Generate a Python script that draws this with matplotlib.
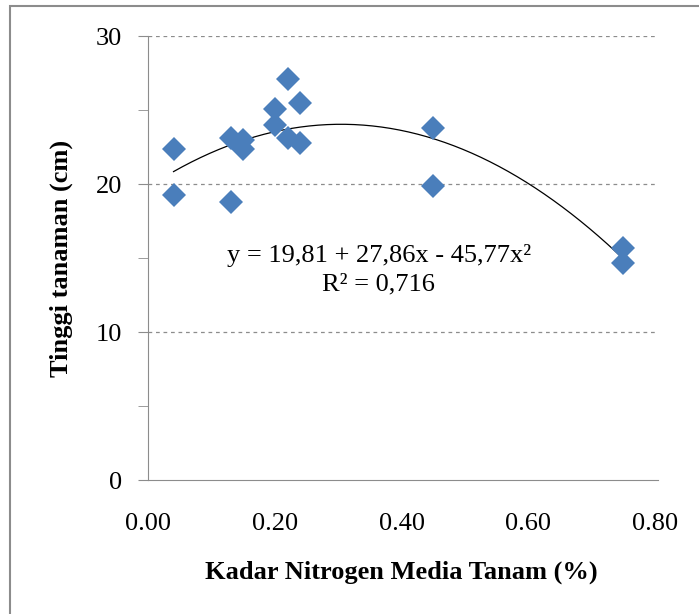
import numpy as np
import matplotlib
matplotlib.use("Agg")
import matplotlib.pyplot as plt
from matplotlib.patches import Rectangle

plt.rcParams['font.family'] = ['Liberation Serif', 'DejaVu Serif']

# data
kadar_n = [0.04, 0.04, 0.13, 0.13, 0.15, 0.15, 0.20, 0.20, 0.22, 0.22, 0.24, 0.24, 0.45, 0.45, 0.75, 0.75]
tinggi = [22.4, 19.3, 23.1, 18.8, 23.0, 22.4, 25.1, 24.0, 27.1, 23.1, 25.5, 22.8, 23.8, 19.9, 15.7, 14.7]

# polynomial trend from the chart
b0, b1, b2 = 19.81, 27.86, -45.77
x_ticks = [0.0, 0.2, 0.4, 0.6, 0.8]
y_ticks = [0, 10, 20, 30]

fig = plt.figure(figsize=(6.99, 6.14), dpi=100)
ax = fig.add_axes([0.212, 0.218, 0.725, 0.723])

# grey frame, only left and top edges fall inside the picture
fig.patches.append(Rectangle((0.015, -0.05), 1.1, 1.0395, transform=fig.transFigure,
                             fill=False, edgecolor='#8c8c8c', linewidth=1.5))

for yv in y_ticks[1:]:
    ax.axhline(yv, color='#8c8c8c', linestyle=(0, (3, 3)), linewidth=0.9, zorder=1)

xs = np.linspace(min(kadar_n), max(kadar_n), 200)
ax.plot(xs, b0 + b1 * xs + b2 * xs ** 2, color='black', linewidth=0.9, zorder=2)

ax.plot(kadar_n, tinggi, linestyle='none', marker='D', markersize=12,
        color='#4a7ebb', markeredgewidth=0, zorder=3)

ax.text(0.364, 14.2, 'y = 19,81 + 27,86x - 45,77x²\nR² = 0,716', ha='center', va='center',
        fontsize=19, linespacing=1.4)

ax.set_xlim(0, 0.8)
ax.set_ylim(0, 30)
ax.set_xticks(x_ticks)
ax.set_xticklabels(['%.2f' % v for v in x_ticks])
ax.set_yticks(y_ticks)
ax.set_yticks([5, 15, 25], minor=True)
ax.tick_params(axis='x', length=0, labelsize=19, pad=24)
ax.tick_params(axis='y', which='both', length=7, color='#8c8c8c', labelsize=19, pad=12)

for s in ['top', 'right']:
    ax.spines[s].set_visible(False)
for s in ['left', 'bottom']:
    ax.spines[s].set_color('#8c8c8c')
ax.spines['bottom'].set_bounds(-0.0, 0.805)

ax.set_xlabel('Kadar Nitrogen Media Tanam (%)', fontsize=19, fontweight='bold', labelpad=18)
ax.set_ylabel('Tinggi tanaman (cm)', fontsize=19, fontweight='bold', labelpad=16)

fig.savefig('out.png', dpi=100)
